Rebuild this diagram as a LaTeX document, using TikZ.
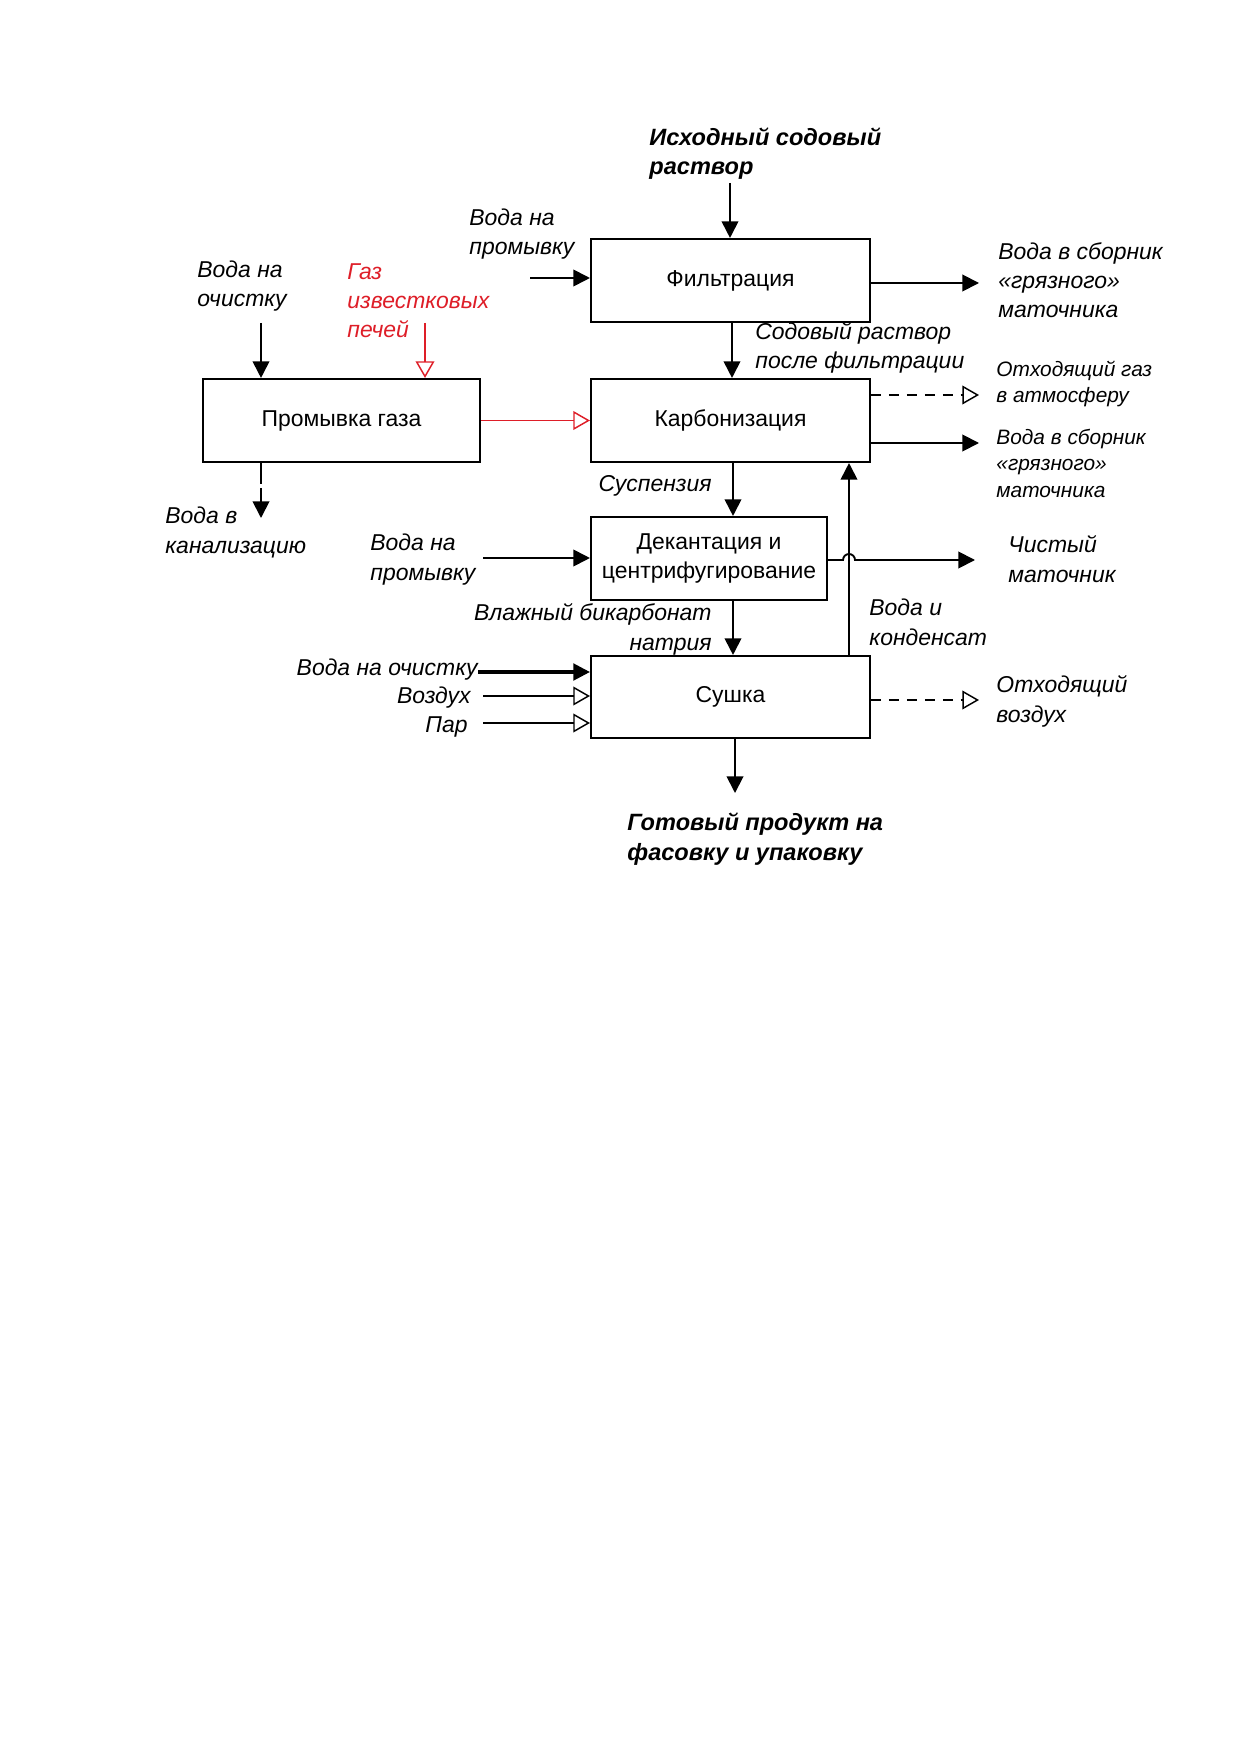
\documentclass[tikz,border=0pt]{standalone}
\usepackage{fontspec}
\setmainfont{Liberation Sans}
\usetikzlibrary{arrows.meta}
\definecolor{gasred}{RGB}{222,30,40}
\newcommand\pxu{0.4795pt}
\begin{document}
\begin{tikzpicture}[x=0.4795pt,y=-0.4795pt,
  box/.style={draw,line width=1pt,inner sep=0pt,font=\fontsize{11}{14}\selectfont,align=center},
  lbl/.style={inner sep=0pt,font=\fontsize{11}{14}\selectfont\itshape,align=left,anchor=base west},
  slbl/.style={inner sep=0pt,font=\fontsize{10}{12.5}\selectfont\itshape,align=left,anchor=base west},
  blbl/.style={inner sep=0pt,font=\fontsize{11.3}{14}\selectfont\bfseries\itshape,align=left,anchor=base west},
  flow/.style={line width=0.9pt,-{Triangle[length=8pt,width=8pt]}},
  oflow/.style={line width=0.7pt,-{Triangle[open,length=8pt,width=9pt]}},
  dflow/.style={oflow,dash pattern=on 4.8pt off 3.8pt},
]
\useasboundingbox (0,0) rectangle (1241,1754);
% boxes
\node[box,minimum width=279*\pxu,minimum height=83*\pxu] (filt) at (730.5,280.5) {Фильтрация};
\node[box,minimum width=279*\pxu,minimum height=83*\pxu] (karb) at (730.5,420.5) {Карбонизация};
\node[box,minimum width=236*\pxu,minimum height=83*\pxu] (dek) at (709,558.5) {Декантация и\\центрифугирование};
\node[box,minimum width=279*\pxu,minimum height=82*\pxu] (sush) at (730.5,697) {Сушка};
\node[box,minimum width=277*\pxu,minimum height=83*\pxu] (prom) at (341.5,420.5) {Промывка газа};
% labels (multi-line: anchor at baseline of last line)
\node[blbl] (src) at (649,175) {Исходный содовый\\раствор};
\node[lbl] (w1) at (469,255) {Вода на\\промывку};
\node[lbl] (w2) at (197,307) {Вода на\\очистку};
\node[lbl,text=gasred] (gas) at (347,338) {Газ\\известковых\\печей};
\node[lbl] (out1) at (998,318) {Вода в сборник\\«грязного»\\маточника};
\node[lbl] (sod) at (755,369) {Содовый раствор\\после фильтрации};
\node[slbl] (og) at (996,403) {Отходящий газ\\в атмосферу};
\node[slbl] (out2) at (996,497) {Вода в сборник\\«грязного»\\маточника};
\node[lbl,anchor=base east] (susp) at (712,492) {Суспензия};
\node[lbl] (kan) at (165,553) {Вода в\\канализацию};
\node[lbl] (w3) at (370,580) {Вода на\\промывку};
\node[lbl] (clean) at (1008,582) {Чистый\\маточник};
\node[lbl,align=right,anchor=base east] (wet) at (712,650) {Влажный бикарбонат\\натрия};
\node[lbl] (cond) at (869,645) {Вода и\\конденсат};
\node[lbl,anchor=base east] (w4) at (478,675) {Вода на очистку};
\node[lbl,anchor=base east] (air) at (471,703) {Воздух};
\node[lbl,anchor=base east] (steam) at (468,732) {Пар};
\node[lbl] (oair) at (996,722) {Отходящий\\воздух};
\node[blbl] (prod) at (627,860) {Готовый продукт на\\фасовку и упаковку};
% free ends
\coordinate (srcS) at (730,183);
\coordinate (w1E) at (530,278);
\coordinate (o1) at (979,283);
\coordinate (w2S) at (261,323);
\coordinate (gasS) at (425,323);
\coordinate (kanE) at (261,518);
\coordinate (ogE) at (979,395);
\coordinate (o2) at (979,443);
\coordinate (w3E) at (483,558);
\coordinate (cleanE) at (975,560);
\coordinate (w4E) at (478,672);
\coordinate (airE) at (483,696);
\coordinate (steamE) at (483,723);
\coordinate (oairE) at (979,700);
\coordinate (prodE) at (735,793);
% connectors
\draw[flow] (srcS) -- (srcS |- filt.north);
\draw[flow] (w1E) -- (w1E -| filt.west);
\draw[flow] (o1 -| filt.east) -- (o1);
\draw[flow] (732,0 |- filt.south) -- (732,0 |- karb.north);
\draw[flow] (w2S) -- (w2S |- prom.north);
\draw[oflow,draw=gasred] (gasS) -- (gasS |- prom.north);
\draw[oflow,draw=gasred] (prom.east) -- (karb.west);
\draw[flow,dash pattern=on 10pt off 2pt] (261,0 |- prom.south) -- (kanE);
\draw[dflow] (ogE -| karb.east) -- (ogE);
\draw[flow] (o2 -| karb.east) -- (o2);
\draw[flow] (733,0 |- karb.south) -- (733,0 |- dek.north);
\draw[flow] (w3E) -- (w3E -| dek.west);
\draw[flow] (cleanE -| dek.east) -- (843,560) arc[start angle=180,end angle=0,radius=6*\pxu] -- (cleanE);
\draw[flow] (849,0 |- sush.north) -- (849,0 |- karb.south);
\draw[flow] (733,0 |- dek.south) -- (733,0 |- sush.north);
\draw[flow,line width=1.5pt] (w4E) -- (w4E -| sush.west);
\draw[oflow] (airE) -- (airE -| sush.west);
\draw[oflow] (steamE) -- (steamE -| sush.west);
\draw[dflow] (oairE -| sush.east) -- (oairE);
\draw[flow] (prodE |- sush.south) -- (prodE);
\end{tikzpicture}
\end{document}
